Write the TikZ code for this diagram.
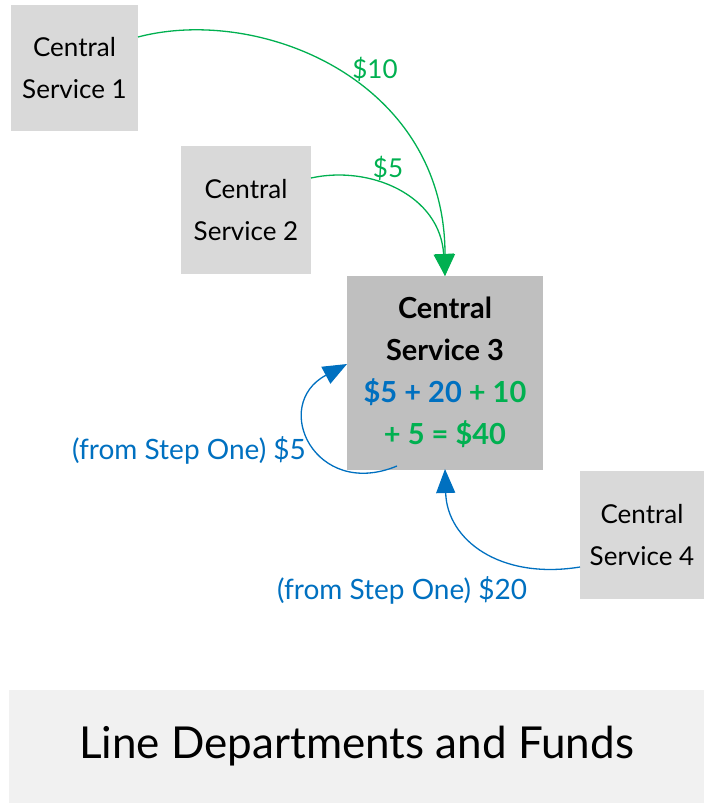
\documentclass[tikz,border=0pt]{standalone}
\usepackage{fontspec}
\setmainfont{Lato}
\usetikzlibrary{arrows.meta}
\definecolor{cgreen}{HTML}{00B050}
\definecolor{cblue}{HTML}{0070C0}
\definecolor{boxgray}{HTML}{D9D9D9}
\definecolor{darkgray}{HTML}{BFBFBF}
\definecolor{lightgray}{HTML}{F1F1F1}
\tikzset{
  svc/.style={fill=boxgray, draw=none, inner sep=0pt, align=center,
    font=\fontsize{26}{42}\selectfont},
  lbl/.style={inner sep=0pt, font=\fontsize{26}{30}\selectfont},
  blbl/.style={inner sep=0pt, font=\fontsize{28}{30}\selectfont},
  garrow/.style={draw=cgreen, line width=1.3pt, -{Triangle[width=20pt,length=22pt]}, fill=none},
  barrow/.style={draw=cblue, line width=1.3pt, -{Triangle[width=19pt,length=24pt]}, fill=none},
}
\begin{document}
\begin{tikzpicture}[x=1pt,y=-1pt]
\useasboundingbox (0,0) rectangle (704,803);
% boxes
\node[svc, minimum width=127pt, minimum height=126pt] (s1) at (74.5,68) {Central\\Service 1};
\node[svc, minimum width=130pt, minimum height=128pt] (s2) at (246,210) {Central\\Service 2};
\node[svc, fill=darkgray, minimum width=196pt, minimum height=194pt,
  font=\fontsize{29}{42}\selectfont\bfseries] (s3) at (445,372.5)
  {Central\\Service 3\\\textcolor{cblue}{\$5 + 20} \textcolor{cgreen}{+ 10}\\\textcolor{cgreen}{+ 5 = \$40}};
\node[svc, minimum width=124pt, minimum height=128pt] (s4) at (642,535) {Central\\Service 4};
\node[fill=lightgray, inner sep=0pt, minimum width=695pt, minimum height=113pt,
  font=\fontsize{44}{48}\selectfont] (ld) at (356.5,746.5) {Line Departments and Funds};
% anchor coordinates
\coordinate (s1o) at (138,37);
\coordinate (s2o) at (311,178);
\coordinate (s3t) at (445,276);
\coordinate (s3b) at (445,469);
\coordinate (s3bl) at (397,466);
\coordinate (s3l) at (347,364);
\coordinate (s4o) at (580,567);
% green arrows
\draw[garrow] (s1o) .. controls (260,5) and (445,80) .. (s3t);
\draw[garrow] (s2o) .. controls (370,165) and (440,195) .. (s3t);
% blue arrows
\draw[barrow] (s3bl) .. controls (315,500) and (270,405) .. (s3l);
\draw[barrow] (s4o) .. controls (500,580) and (447,540) .. (s3b);
% labels
\node[lbl, text=cgreen] (l10) at (375,69) {\$10};
\node[lbl, text=cgreen] (l5) at (388,168) {\$5};
\node[blbl, text=cblue, anchor=east] (lb5) at (306,450) {(from Step One) \$5};
\node[blbl, text=cblue] (lb20) at (402,590) {(from Step One) \$20};
\end{tikzpicture}
\end{document}
